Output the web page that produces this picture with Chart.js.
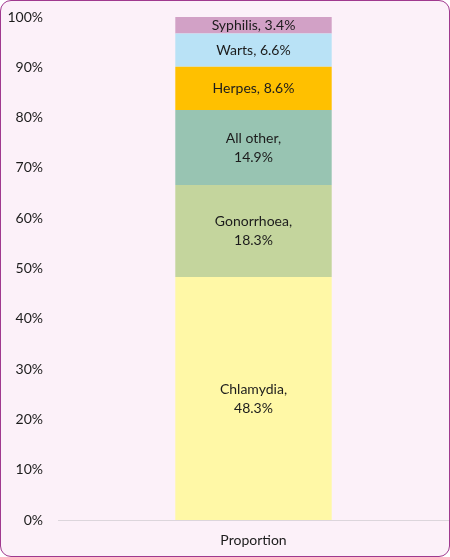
<!DOCTYPE html>
<html>
<head>
<meta charset="utf-8">
<script src="https://cdn.jsdelivr.net/npm/chart.js@4"></script>
<style>
  html, body { margin: 0; padding: 0; background: #ffffff; }
  #wrap {
    position: absolute; left: 0; top: 0;
    width: 450px; height: 557px;
    box-sizing: border-box;
    border: 1.5px solid #a0398f;
    border-radius: 11px;
    background: #fcf1f9;
    overflow: hidden;
  }
  canvas { position: absolute; left: 0; top: 0; }
</style>
</head>
<body>
<div id="wrap"><canvas id="chart" width="450" height="557"></canvas></div>
<script>
// categories and values, bottom of the stack first
var categories = ['Proportion'];
var infections = ['Chlamydia', 'Gonorrhoea', 'All other', 'Herpes', 'Warts', 'Syphilis'];
var shares = [48.3, 18.3, 14.9, 8.6, 6.6, 3.4];
var colours = ['#fff8a6', '#c4d59d', '#98c4b2', '#ffc000', '#b9e2f6', '#d2a1c6'];
var yTicks = [0, 10, 20, 30, 40, 50, 60, 70, 80, 90, 100];

var textColour = '#1c1c1c';
var fontFamily = 'Lato, "Open Sans", sans-serif';

var datasets = [];
for (var i = 0; i < infections.length; i++) {
    datasets.push({
        label: infections[i],
        data: [shares[i]],
        backgroundColor: colours[i],
        borderWidth: 0,
        categoryPercentage: 1.0,
        barPercentage: 0.4
    });
}

// writes "Name, x.x%" in the middle of each segment
var segmentLabels = {
    id: 'segmentLabels',
    afterDatasetsDraw: function (chart) {
        var ctx = chart.ctx;
        ctx.save();
        ctx.fillStyle = textColour;
        ctx.font = '14px ' + fontFamily;
        ctx.textAlign = 'center';
        ctx.textBaseline = 'middle';
        chart.data.datasets.forEach(function (ds, i) {
            var bar = chart.getDatasetMeta(i).data[0];
            var mid = (bar.y + bar.base) / 2;
            var val = ds.data[0].toFixed(1) + '%';
            if (ds.data[0] > 10) {
                ctx.fillText(ds.label + ',', bar.x, mid - 9.5);
                ctx.fillText(val, bar.x, mid + 9.5);
            } else {
                ctx.fillText(ds.label + ', ' + val, bar.x, mid);
            }
        });
        ctx.restore();
    }
};

var ctx = document.getElementById('chart').getContext('2d');
var myChart = new Chart(ctx, {
    type: 'bar',
    data: { labels: categories, datasets: datasets },
    plugins: [segmentLabels],
    options: {
        responsive: false,
        animation: false,
        layout: { padding: { top: 16, right: 2, bottom: 0, left: 0 } },
        plugins: { legend: { display: false }, tooltip: { enabled: false } },
        scales: {
            x: {
                stacked: true,
                grid: { display: false },
                border: { display: true, color: '#dcd6dc', width: 1 },
                ticks: { color: textColour, padding: 4, font: { family: fontFamily, size: 14 } },
                afterFit: function (s) { s.height = 38; s.paddingLeft = 0; s.paddingRight = 0; }
            },
            y: {
                stacked: true,
                min: 0,
                max: 100,
                grid: { display: false, drawTicks: false },
                border: { display: false },
                afterBuildTicks: function (s) {
                    s.ticks = yTicks.map(function (v) { return { value: v }; });
                },
                ticks: {
                    color: textColour,
                    padding: 15,
                    font: { family: fontFamily, size: 14 },
                    callback: function (v) { return v + '%'; }
                },
                afterFit: function (s) { s.width = 57; s.paddingTop = 0; s.paddingBottom = 0; }
            }
        }
    }
});
</script>
</body>
</html>
